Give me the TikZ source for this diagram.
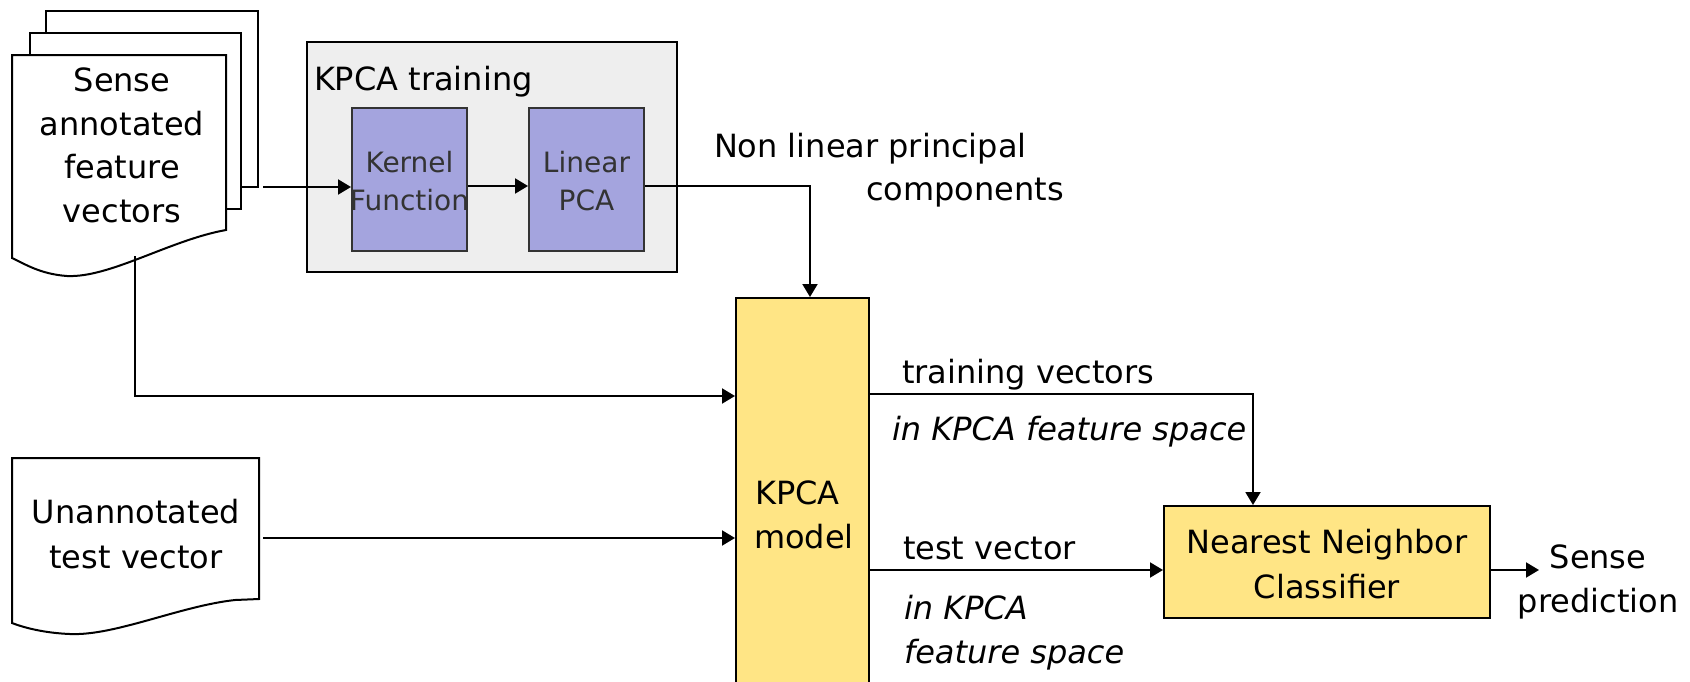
\documentclass[tikz,border=0pt]{standalone}
\usepackage{fontspec}
\setmainfont{DejaVu Sans}
\usetikzlibrary{arrows.meta,fit}
\definecolor{modelyellow}{HTML}{FFE585}
\definecolor{kpcapurple}{HTML}{A4A4DE}
\definecolor{traingray}{HTML}{EEEEEE}
\definecolor{darktext}{HTML}{333333}
\begin{document}
\begin{tikzpicture}[x=0.5pt,y=-0.5pt,
  line width=1pt,
  arr/.style={-{Triangle[length=6.5pt,width=7.5pt]}},
  lbl/.style={anchor=base west, inner sep=0pt, font=\fontsize{16}{22}\selectfont},
  lblc/.style={anchor=base, inner sep=0pt, font=\fontsize{16}{22}\selectfont},
  innertext/.style={anchor=base, inner sep=0pt, font=\fontsize{14}{19}\selectfont, text=darktext},
  boxstyle/.style={draw, inner sep=0pt},
]
\clip (0,0) rectangle (1690,681);
\fill[white] (0,0) rectangle (1690,681);

% stacked documents
\draw (46,33) -- (46,11) -- (258,11) -- (258,187) -- (241,187);
\draw[fill=white] (30,55) -- (30,33) -- (241,33) -- (241,209) -- (226,209) -- (226,55) -- cycle;
\draw[fill=white] (12,55) -- (226,55) -- (226,230)
  .. controls (170,240) and (110,278) .. (67,276)
  .. controls (40,274) and (25,264) .. (12,258) -- cycle;
\node[lblc] (t1) at (122,91) {Sense};
\node[lblc] (t2) at (122,135) {annotated};
\node[lblc] (t3) at (122,178) {feature};
\node[lblc] (t4) at (122,222) {vectors};
\coordinate (docout) at (263,187);
\coordinate (docbot) at (135,256);

% test document
\draw[fill=white] (12,458) -- (259,458) -- (259,599) -- (235,600)
  .. controls (180,606) and (115,636) .. (70,634)
  .. controls (45,633) and (25,628) .. (12,623) -- cycle;
\node[lblc] (u1) at (136,523) {Unannotated};
\node[lblc] (u2) at (136,568) {test vector};
\coordinate (testout) at (263,538);

% KPCA training
\node[boxstyle, fill=traingray, fit={(307,42) (677,272)}] (train) {};
\node[lbl] (traintitle) at (313,90) {KPCA training};
\node[boxstyle, draw=darktext, fill=kpcapurple, fit={(352,108) (467,251)}] (kernel) {};
\node[innertext] (k1) at (409.5,172) {Kernel};
\node[innertext] (k2) at (409.5,210) {Function};
\node[boxstyle, draw=darktext, fill=kpcapurple, fit={(529,108) (644,251)}] (linpca) {};
\node[innertext] (l1) at (586.5,172) {Linear};
\node[innertext] (l2) at (586.5,210) {PCA};

% KPCA model
\node[boxstyle, fill=modelyellow, fit={(736,298) (869,720)}] (model) {};
\node[lbl] (m1) at (754,504) {KPCA};
\node[lbl] (m2) at (753,548) {model};

% Nearest neighbour
\node[boxstyle, fill=modelyellow, fit={(1164,506) (1490,618)}] (nn) {};
\node[lblc] (n1) at (1327,553) {Nearest Neighbor};
\node[lblc] (n2) at (1327,598) {Classifier};
\coordinate (nnout) at (1539,570);
\node[lblc] (s1) at (1598,568) {Sense};
\node[lblc] (s2) at (1598,612) {prediction};

% labels
\node[lbl] (nl1) at (713,157) {Non linear principal};
\node[lbl] (nl2) at (865,200) {components};
\node[lbl] (tv1) at (901,383) {training vectors};
\node[lbl, font=\fontsize{16}{22}\selectfont\itshape] (tv2) at (891,440) {in KPCA feature space};
\node[lbl] (te1) at (902,559) {test vector};
\node[lbl, font=\fontsize{16}{22}\selectfont\itshape] (te2) at (903,619) {in KPCA};
\node[lbl, font=\fontsize{16}{22}\selectfont\itshape] (te3) at (903,663) {feature space};

% connectors
\draw[arr] (docout) -- (kernel.west |- docout);
\draw[arr] (kernel.east |- 0,186) -- (linpca.west |- 0,186);
\draw[arr] (linpca.east |- 0,186) -| (model.north -| 810,0);
\draw[arr] (docbot) |- (model.west |- 0,396);
\draw[arr] (testout) -- (model.west |- testout);
\draw[arr] (model.east |- 0,394) -| (nn.north -| 1253,0);
\draw[arr] (model.east |- 0,570) -- (nn.west |- 0,570);
\draw[arr] (nn.east |- nnout) -- (nnout);
\end{tikzpicture}
\end{document}
